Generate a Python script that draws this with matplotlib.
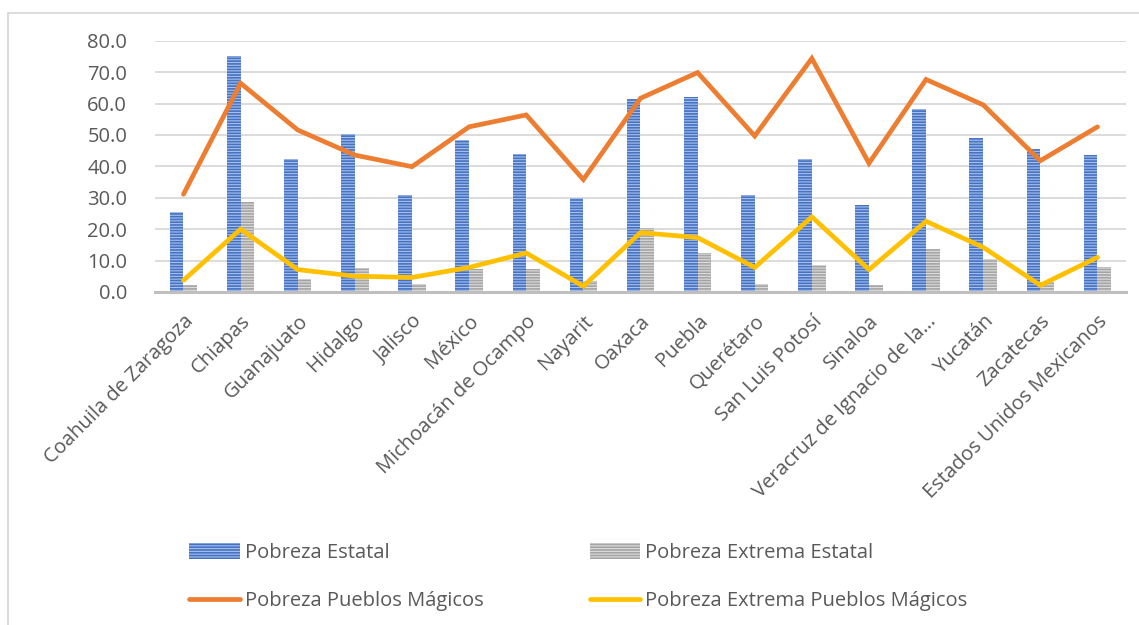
import numpy as np
import matplotlib.pyplot as plt
import matplotlib.patches as mpatches
from matplotlib.lines import Line2D

plt.rcParams['font.family'] = ['Open Sans', 'DejaVu Sans']
plt.rcParams['hatch.linewidth'] = 0.8

estados = ['Coahuila de Zaragoza', 'Chiapas', 'Guanajuato', 'Hidalgo', 'Jalisco',
           'México', 'Michoacán de Ocampo', 'Nayarit', 'Oaxaca', 'Puebla',
           'Querétaro', 'San Luis Potosí', 'Sinaloa', 'Veracruz de Ignacio de la…',
           'Yucatán', 'Zacatecas', 'Estados Unidos Mexicanos']
pobreza_estatal = [25.4, 75.2, 42.2, 50.3, 30.8, 48.4, 44.0, 30.0, 61.4, 62.0,
                   30.8, 42.2, 27.7, 58.2, 48.9, 45.4, 43.5]
extrema_estatal = [2.1, 28.7, 4.0, 7.7, 2.5, 7.4, 7.2, 3.4, 20.2, 12.4,
                   2.5, 8.5, 2.1, 13.6, 10.6, 3.2, 7.8]
pobreza_pm = [31.1, 66.5, 51.6, 43.6, 39.9, 52.6, 56.4, 35.8, 61.7, 69.9,
              49.7, 74.4, 41.0, 67.7, 59.6, 41.8, 52.6]
extrema_pm = [3.7, 20.0, 7.1, 5.0, 4.6, 7.8, 12.4, 1.8, 18.9, 17.3,
              7.8, 23.9, 7.1, 22.5, 14.2, 2.1, 11.0]
yticks = np.arange(0, 81, 10)

txt = '#595959'
fs = 14.5
fig = plt.figure(figsize=(11.39, 6.25), dpi=100)
ax = fig.add_axes([0.136, 0.533, 0.8526, 0.4016])

x = np.arange(len(estados))
w = 0.24
ax.bar(x - w / 2, pobreza_estatal, w, color='#4472C4', edgecolor='#a9c0ea',
       hatch='------', linewidth=0, zorder=2)
ax.bar(x + w / 2, extrema_estatal, w, color='#a5a5a5', edgecolor='#dcdcdc',
       hatch='------', linewidth=0, zorder=2)
ax.plot(x, pobreza_pm, color='#ED7D31', lw=3.4, solid_capstyle='round',
        solid_joinstyle='miter', zorder=3)
ax.plot(x, extrema_pm, color='#FFC000', lw=3.4, solid_capstyle='round',
        solid_joinstyle='miter', zorder=3)

ax.set_xlim(-0.5, len(estados) - 0.5)
ax.set_ylim(0, 80)
ax.set_yticks(yticks)
ax.set_yticklabels([f'{v:.1f}' for v in yticks], fontsize=fs, color=txt)
ax.yaxis.grid(True, color='#d9d9d9', lw=1.3, zorder=0)
ax.set_axisbelow(True)
ax.tick_params(axis='y', length=0, pad=20)
ax.tick_params(axis='x', length=0, pad=14)
ax.set_xticks(x)
ax.set_xticklabels(estados, rotation=45, ha='right', rotation_mode='anchor',
                   fontsize=fs, color=txt)
for s in ['top', 'right', 'left']:
    ax.spines[s].set_visible(False)
ax.spines['bottom'].set_color('#bfbfbf')
ax.spines['bottom'].set_linewidth(2.2)

# legend
h = [mpatches.Patch(facecolor='#4472C4', edgecolor='#a9c0ea', hatch='------', lw=0),
     Line2D([], [], color='#ED7D31', lw=3.4, solid_capstyle='round'),
     mpatches.Patch(facecolor='#a5a5a5', edgecolor='#dcdcdc', hatch='------', lw=0),
     Line2D([], [], color='#FFC000', lw=3.4, solid_capstyle='round')]
labels = ['Pobreza Estatal', 'Pobreza Pueblos Mágicos',
          'Pobreza Extrema Estatal', 'Pobreza Extrema Pueblos Mágicos']
leg = fig.legend(h, labels, ncol=2, loc='upper left', bbox_to_anchor=(0.152, 0.157),
                 frameon=False, fontsize=fs, handlelength=2.5, handleheight=0.8,
                 handletextpad=0.25, columnspacing=5.3, labelspacing=1.4,
                 borderpad=0.3)
for t in leg.get_texts():
    t.set_color(txt)

# chart border
fig.add_artist(Line2D([8 / 1139, 1.0], [1 - 13 / 625, 1 - 13 / 625],
                      transform=fig.transFigure, color='#d9d9d9', lw=1.3))
fig.add_artist(Line2D([8 / 1139, 8 / 1139], [0, 1 - 13 / 625],
                      transform=fig.transFigure, color='#d9d9d9', lw=1.3))

fig.savefig('out.png', dpi=100, facecolor='white')
